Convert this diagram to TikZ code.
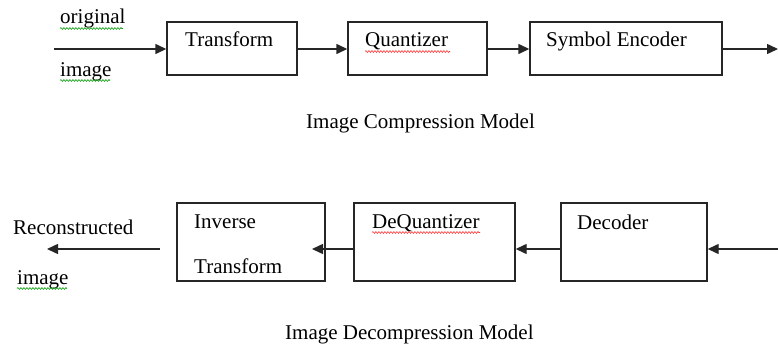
\documentclass[tikz,border=0pt]{standalone}
\usepackage{fontspec}
\setmainfont{Liberation Serif}
\usetikzlibrary{arrows.meta,decorations.pathmorphing}
\begin{document}
\begin{tikzpicture}[x=1pt,y=-1pt,
  box/.style={draw=black!85,line width=1.4pt,inner sep=0pt,minimum width=#1},
  box/.default=100pt,
  txt/.style={anchor=base west,inner sep=0pt,font=\fontsize{21}{24}\selectfont},
  arr/.style={draw=black!85,line width=1.4pt,-{Triangle[length=11pt,width=10pt]}},
  squig/.style={line width=0.6pt,decorate,decoration={snake,amplitude=0.9pt,segment length=3pt}},
]
\useasboundingbox (0,0) rectangle (778,345);
% top row boxes
\node[box=130pt,minimum height=53pt] (t1) at (232,48.5) {};
\node[box=139pt,minimum height=53pt] (t2) at (417.5,48.5) {};
\node[box=192pt,minimum height=53pt] (t3) at (626,48.5) {};
\node[txt] (t1t) at (185,47) {Transform};
\node[txt] (t2t) at (365,47) {Quantizer};
\node[txt] (t3t) at (546,47) {Symbol Encoder};
\node[txt] (orig) at (60,24) {original};
\node[txt] (img1) at (60,76) {image};
\coordinate (in) at (54,49);
\coordinate (out) at (778,49);
\draw[arr] (in) -- (in -| t1.west);
\draw[arr] (t1.east |- in) -- (in -| t2.west);
\draw[arr] (t2.east |- in) -- (in -| t3.west);
\draw[arr] (t3.east |- in) -- (out);
\node[txt] (cap1) at (306,128) {Image Compression Model};
% bottom row boxes
\node[box=148pt,minimum height=78pt] (b1) at (251,242) {};
\node[box=161pt,minimum height=78pt] (b2) at (434.5,242) {};
\node[box=146pt,minimum height=78pt] (b3) at (634,242) {};
\node[txt] (b1a) at (194,228) {Inverse};
\node[txt] (b1b) at (194,273) {Transform};
\node[txt] (b2t) at (372,228) {DeQuantizer};
\node[txt] (b3t) at (577,229) {Decoder};
\node[txt] (rec) at (13,234) {Reconstructed};
\node[txt] (img2) at (17,284) {image};
\coordinate (bin) at (778,249);
\coordinate (bend1) at (312,249);
\coordinate (bstart) at (160,249);
\coordinate (bout) at (47,249);
\draw[arr] (bin) -- (bin -| b3.east);
\draw[arr] (b3.west |- bin) -- (bin -| b2.east);
\draw[arr] (b2.west |- bin) -- (bend1);
\draw[arr] (bstart) -- (bout);
\node[txt] (cap2) at (285,339) {Image Decompression Model};
% spell-check underlines
\draw[squig,green!60!black] (60,28.5) -- (123,28.5);
\draw[squig,green!60!black] (60,80.5) -- (110,80.5);
\draw[squig,green!60!black] (17,288.5) -- (67,288.5);
\draw[squig,red!80] (365,51.5) -- (450,51.5);
\draw[squig,red!80] (372,232.5) -- (480,232.5);
\end{tikzpicture}
\end{document}
